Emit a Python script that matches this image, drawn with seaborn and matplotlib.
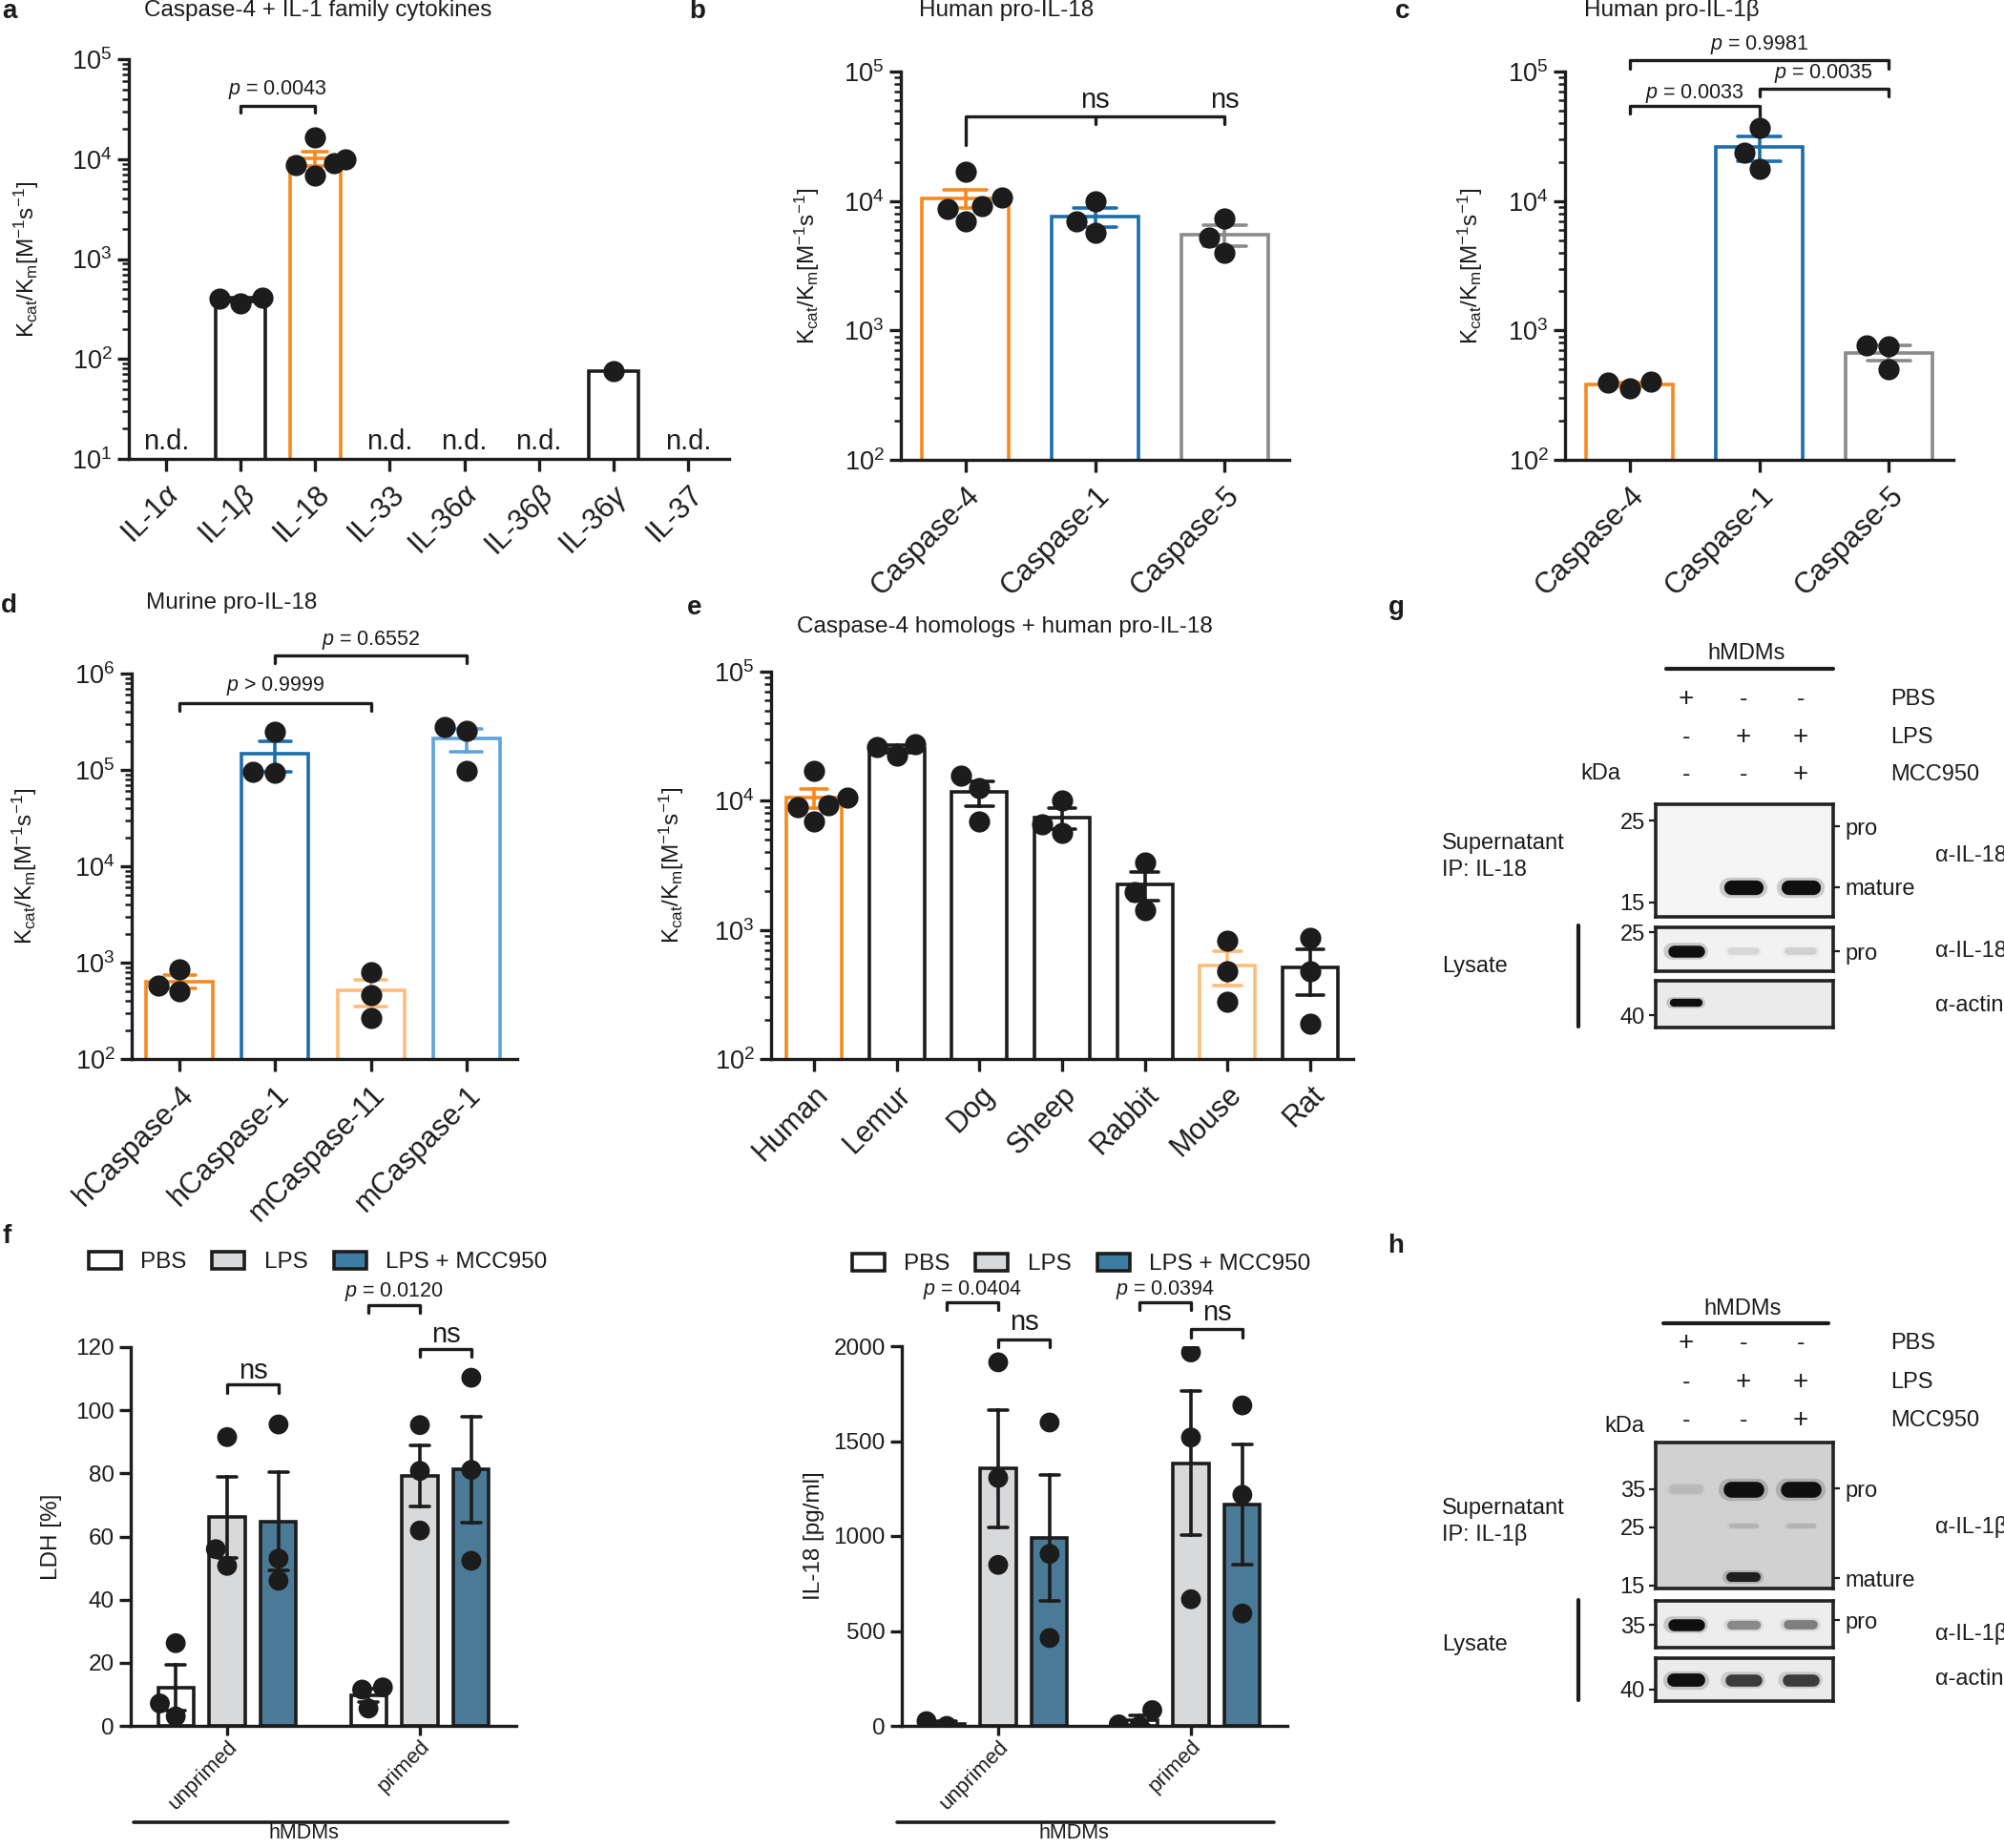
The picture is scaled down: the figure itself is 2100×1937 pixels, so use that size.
import numpy as np
import pandas as pd
import matplotlib
matplotlib.use("Agg")
import matplotlib.pyplot as plt
import matplotlib.transforms as mtransforms
from matplotlib.lines import Line2D
from matplotlib.patches import Patch
from matplotlib.ticker import LogLocator, NullFormatter, NullLocator
import seaborn as sns

# ---------------- data ----------------
# a: caspase-4 against IL-1 family members (empty list = not detected)
a_labels = ["IL-1$\\alpha$", "IL-1$\\beta$", "IL-18", "IL-33", "IL-36$\\alpha$",
            "IL-36$\\beta$", "IL-36$\\gamma$", "IL-37"]
a_il1a = []
a_il1b = [410, 360, 405]
a_il18 = [16400, 9900, 9100, 8700, 6900]
a_il33 = []
a_il36a = []
a_il36b = []
a_il36g = [76]
a_il37 = []

# b: human pro-IL-18
b_labels = ["Caspase-4", "Caspase-1", "Caspase-5"]
b_casp4 = [16700, 10700, 9100, 8700, 7000]
b_casp1 = [10000, 7000, 5700]
b_casp5 = [7300, 5200, 3950]

# c: human pro-IL-1beta
c_labels = ["Caspase-4", "Caspase-1", "Caspase-5"]
c_casp4 = [400, 360, 395]
c_casp1 = [36600, 23600, 17700]
c_casp5 = [767, 753, 501]

# d: murine pro-IL-18
d_labels = ["hCaspase-4", "hCaspase-1", "mCaspase-11", "mCaspase-1"]
d_hcasp4 = [843, 502, 575]
d_hcasp1 = [248000, 94000, 96000]
d_mcasp11 = [803, 465, 265]
d_mcasp1 = [277000, 255000, 98000]

# e: caspase-4 homologs + human pro-IL-18
e_labels = ["Human", "Lemur", "Dog", "Sheep", "Rabbit", "Mouse", "Rat"]
e_human = [17100, 10600, 9200, 8900, 6900]
e_lemur = [27500, 22200, 26000]
e_dog = [15600, 12600, 6900]
e_sheep = [10000, 6600, 5600]
e_rabbit = [3300, 1980, 1420]
e_mouse = [820, 479, 279]
e_rat = [862, 479, 189]

# f: hMDMs, LDH release and IL-18
f_groups = ["unprimed", "primed"]
f_treats = ["PBS", "LPS", "LPS + MCC950"]
ldh_unprimed_pbs = [26.2, 7.1, 3.0]
ldh_unprimed_lps = [91.5, 50.7, 56.0]
ldh_unprimed_mcc = [95.5, 53.0, 46.0]
ldh_primed_pbs = [12.2, 11.5, 5.5]
ldh_primed_lps = [95.3, 80.8, 61.9]
ldh_primed_mcc = [110.3, 81.1, 52.3]
il18_unprimed_pbs = [0, 25]
il18_unprimed_lps = [1915, 1306, 848]
il18_unprimed_mcc = [1598, 906, 463]
il18_primed_pbs = [83, 0, 8]
il18_primed_lps = [1967, 1519, 667]
il18_primed_mcc = [1688, 1217, 592]

# g/h: western blots, lane treatments and band intensities (0..1)
treat_pbs = ["+", "-", "-"]
treat_lps = ["-", "+", "+"]
treat_mcc = ["-", "-", "+"]
g_sup_mature = [0.0, 1.0, 1.0]
g_lys_pro = [1.0, 0.12, 0.15]
g_actin = [1.0, 0.0, 0.0]
h_sup_pro = [0.12, 1.0, 1.0]
h_sup_mid = [0.0, 0.15, 0.15]
h_sup_mature = [0.0, 0.92, 0.0]
h_lys_pro = [1.0, 0.45, 0.5]
h_actin = [1.0, 0.8, 0.8]

# ---------------- style ----------------
INK = "#1c1c1c"
ORANGE = "#F58A1F"
BLUE = "#1C6EAB"
GREY = "#8A8A8A"
LORANGE = "#FDBD79"
LBLUE = "#5FA3DA"
f_colors = ["white", "#D8D9DB", "#3E7DA3"]
KLABEL = "K$_{\\mathrm{cat}}$/K$_{\\mathrm{m}}$[M$^{-1}$s$^{-1}$]"

sns.set_style("ticks")
plt.rcParams["font.family"] = ["Liberation Sans", "DejaVu Sans"]
plt.rcParams["mathtext.fontset"] = "custom"
plt.rcParams["mathtext.rm"] = "Liberation Sans"
plt.rcParams["mathtext.it"] = "Liberation Sans:italic"
plt.rcParams["mathtext.bf"] = "Liberation Sans:bold"
for k in ["text.color", "axes.labelcolor", "xtick.color", "ytick.color", "axes.edgecolor"]:
    plt.rcParams[k] = INK
plt.rcParams["axes.linewidth"] = 2.4

W, H = 2100, 1937
fig = plt.figure(figsize=(W / 100, H / 100), dpi=100)


def px_axes(l, t, r, b):
    return fig.add_axes([l / W, 1 - b / H, (r - l) / W, (b - t) / H])


def fig_text(x, y, s, **kw):
    fig.text(x / W, 1 - y / H, s, **kw)


def fig_line(xs, ys, lw=2.6):
    fig.add_artist(Line2D([x / W for x in xs], [1 - y / H for y in ys],
                          transform=fig.transFigure, color=INK, lw=lw))


def bracket(ax, x1, x2, y, y1, y2, label=None, ty=None, fs=15.5):
    ax.plot([x1, x1, x2, x2], [y1, y, y, y2], color=INK, lw=2.4, clip_on=False)
    if label:
        ax.text((x1 + x2) / 2, ty, label, ha="center", va="center", fontsize=fs, clip_on=False)


def log_panel(box, labels, series, colors, ylim, xlim, width, ylab_x):
    l, t, r, b = box
    ax = px_axes(*box)
    counts = [len(s) for s in series]
    df = pd.DataFrame({
        "cat": np.repeat(labels, counts),
        "val": np.concatenate([np.asarray(s, dtype=float) for s in series]),
    })
    sns.barplot(data=df, x="cat", y="val", order=labels, hue="cat", hue_order=labels,
                palette=dict(zip(labels, colors)), fill=False, width=width,
                errorbar="se", capsize=0.33, linewidth=2.6,
                err_kws={"linewidth": 2.6}, legend=False, ax=ax)
    ax.set_yscale("log")
    sns.swarmplot(data=df, x="cat", y="val", order=labels, color=INK, size=16, ax=ax)
    ax.set_ylim(*ylim)
    ax.set_xlim(*xlim)
    ax.yaxis.set_major_locator(LogLocator(base=10, numticks=12))
    ax.yaxis.set_minor_locator(LogLocator(base=10, subs=np.arange(2, 10), numticks=12))
    ax.yaxis.set_minor_formatter(NullFormatter())
    ax.set_xticks(range(len(labels)))
    ax.set_xticklabels(labels, rotation=45, ha="right", rotation_mode="anchor", fontsize=22)
    ax.tick_params(axis="y", which="major", length=9, width=2.4, labelsize=19.5)
    ax.tick_params(axis="y", which="minor", length=5, width=1.8)
    ax.tick_params(axis="x", length=9, width=2.4, pad=7)
    ax.set_xlabel("")
    ax.set_ylabel(KLABEL, fontsize=17.5)
    ax.yaxis.set_label_coords((ylab_x - l) / (r - l), 0.5)
    sns.despine(ax=ax)
    return ax


def long_frame(series):
    keys = [(g, t) for g in f_groups for t in f_treats]
    return pd.DataFrame([{"group": g, "treat": t, "val": v}
                         for (g, t), s in zip(keys, series) for v in s])


def f_panel(box, df, ylim, yticks, ylabel, ylab_x, legend_xy):
    l, t, r, b = box
    ax = px_axes(*box)
    sns.barplot(data=df, x="group", y="val", hue="treat", order=f_groups, hue_order=f_treats,
                palette=f_colors, width=0.8, gap=0.31, errorbar="se", capsize=0.3,
                edgecolor=INK, linewidth=2.6, err_kws={"color": INK, "linewidth": 2.6},
                legend=False, ax=ax)
    sns.swarmplot(data=df, x="group", y="val", hue="treat", order=f_groups, hue_order=f_treats,
                  dodge=True, palette=[INK] * 3, size=15, legend=False, ax=ax)
    ax.set_ylim(*ylim)
    ax.set_xlim(-0.5, 1.5)
    ax.set_yticks(yticks)
    ax.set_xticks([0, 1])
    ax.set_xticklabels(f_groups, rotation=45, ha="right", rotation_mode="anchor", fontsize=16)
    ax.tick_params(axis="y", length=9, width=2.4, labelsize=17.5)
    ax.tick_params(axis="x", length=7, width=2.4, pad=1)
    ax.set_xlabel("")
    ax.set_ylabel(ylabel, fontsize=17.5)
    ax.yaxis.set_label_coords((ylab_x - l) / (r - l), 0.5)
    sns.despine(ax=ax)
    handles = [Patch(facecolor=c, edgecolor=INK, linewidth=2.6, label=tr)
               for c, tr in zip(f_colors, f_treats)]
    ax.legend(handles=handles, ncol=3, loc="center",
              bbox_to_anchor=(legend_xy[0] / W, 1 - legend_xy[1] / H),
              bbox_transform=fig.transFigure, frameon=False, fontsize=17.5,
              handlelength=1.4, handleheight=0.75, handletextpad=0.85, columnspacing=1.1)
    return ax


def membrane(box, ylim, bg, bands, left_marks, right_marks):
    ax = px_axes(*box)
    ax.set_facecolor(str(bg))
    ax.set_yscale("log")
    ax.set_xlim(-0.53, 2.57)
    ax.set_ylim(*ylim)
    for kda, lane_vals, lw in bands:
        for lane, v in enumerate(lane_vals):
            if v > 0:
                shade = bg - (bg - 0.06) * v
                width = lw * (0.55 + 0.45 * v)
                # soft halo, then the band core
                ax.plot([lane - 0.24, lane + 0.24], [kda, kda], color=str(shade),
                        lw=width * 1.4, alpha=0.18, solid_capstyle="round")
                ax.plot([lane - 0.22, lane + 0.22], [kda, kda], color=str(shade),
                        lw=width, solid_capstyle="round")
    ax.set_xticks([])
    ax.yaxis.set_minor_locator(NullLocator())
    ax.set_yticks(left_marks, labels=[str(m) for m in left_marks])
    ax.tick_params(axis="y", length=5, width=1.6, pad=3, labelsize=17)
    if right_marks:
        sec = ax.secondary_yaxis("right")
        sec.yaxis.set_minor_locator(NullLocator())
        sec.set_yticks([p for _, p in right_marks], labels=[n for n, _ in right_marks])
        sec.tick_params(length=5, width=1.6, pad=4, labelsize=17)
        sec.spines["right"].set_visible(False)
    for s in ax.spines.values():
        s.set_visible(True)
        s.set_linewidth(2.6)
        s.set_color("#222222")
    return ax


def blot_header(ax, header_xy, line_x, line_y, rows_y, kda_xy):
    fig_text(*header_xy, "hMDMs", ha="center", va="center", fontsize=17)
    fig_line(line_x, [line_y, line_y], lw=3)
    trans = mtransforms.blended_transform_factory(ax.transData, fig.transFigure)
    for name, signs, y in zip(["PBS", "LPS", "MCC950"], [treat_pbs, treat_lps, treat_mcc], rows_y):
        for lane, sg in enumerate(signs):
            ax.text(lane, 1 - y / H, sg, transform=trans, ha="center", va="center",
                    fontsize=20 if sg == "+" else 18, clip_on=False)
        fig_text(1981, y, name, ha="left", va="center", fontsize=17)
    fig_text(*kda_xy, "kDa", ha="center", va="center", fontsize=17)


# ---------------- panel a ----------------
a_series = [a_il1a, a_il1b, a_il18, a_il33, a_il36a, a_il36b, a_il36g, a_il37]
ax_a = log_panel((135, 62, 764, 481), a_labels, a_series,
                 [INK, INK, ORANGE, INK, INK, INK, INK, INK],
                 (10, 1e5), (-0.5, 7.55), 0.67, 43)
for i, s in enumerate(a_series):
    if len(s) == 0:
        ax_a.text(i, 11, "n.d.", ha="center", va="bottom", fontsize=21)
bracket(ax_a, 1, 2, 3.4e4, 2.9e4, 2.9e4, "$p$ = 0.0043", 4.9e4)

# ---------------- panel b ----------------
ax_b = log_panel((944, 75, 1351, 482), b_labels, [b_casp4, b_casp1, b_casp5],
                 [ORANGE, BLUE, GREY], (100, 1e5), (-0.5, 2.5), 0.67, 861)
bracket(ax_b, 0, 2, 4.5e4, 2.7e4, 3.9e4)
ax_b.plot([1, 1], [4.5e4, 3.9e4], color=INK, lw=2.4)
for xx in (1, 2):
    ax_b.text(xx, 6.0e4, "ns", ha="center", va="center", fontsize=21)

# ---------------- panel c ----------------
ax_c = log_panel((1640, 75, 2047, 482), c_labels, [c_casp4, c_casp1, c_casp5],
                 [ORANGE, BLUE, GREY], (100, 1e5), (-0.5, 2.5), 0.67, 1556)
bracket(ax_c, 0, 2, 1.22e5, 1.05e5, 1.05e5, "$p$ = 0.9981", 1.6e5)
bracket(ax_c, 0, 1, 5.4e4, 4.7e4, 4.5e4, "$p$ = 0.0033", 6.8e4)
bracket(ax_c, 1, 2, 7.4e4, 6.4e4, 6.4e4, "$p$ = 0.0035", 9.7e4)

# ---------------- panel d ----------------
ax_d = log_panel((138, 706, 542, 1110), d_labels, [d_hcasp4, d_hcasp1, d_mcasp11, d_mcasp1],
                 [ORANGE, BLUE, LORANGE, LBLUE], (100, 1e6), (-0.5, 3.53), 0.70, 41)
bracket(ax_d, 0, 2, 4.95e5, 4.1e5, 4.1e5, "$p$ > 0.9999", 7.4e5)
bracket(ax_d, 1, 3, 1.55e6, 1.28e6, 1.28e6, "$p$ = 0.6552", 2.24e6)

# ---------------- panel e ----------------
ax_e = log_panel((808, 704, 1418, 1110), e_labels,
                 [e_human, e_lemur, e_dog, e_sheep, e_rabbit, e_mouse, e_rat],
                 [ORANGE, INK, INK, INK, INK, LORANGE, INK], (100, 1e5), (-0.52, 6.52), 0.67, 719)

# ---------------- panel f ----------------
off = 0.8 / 3
ldh_df = long_frame([ldh_unprimed_pbs, ldh_unprimed_lps, ldh_unprimed_mcc,
                     ldh_primed_pbs, ldh_primed_lps, ldh_primed_mcc])
ax_f1 = f_panel((137, 1412, 541, 1809), ldh_df, (0, 120), range(0, 121, 20),
                "LDH [%]", 65, (333, 1323))
bracket(ax_f1, 0, off, 108.1, 105.6, 105.6, "ns", 112.5, fs=21)
bracket(ax_f1, 1 - off, 1, 133.4, 130.9, 130.9, "$p$ = 0.0120", 137.5)
bracket(ax_f1, 1, 1 + off, 119.4, 116.9, 116.9, "ns", 123.8, fs=21)

il18_df = long_frame([il18_unprimed_pbs, il18_unprimed_lps, il18_unprimed_mcc,
                      il18_primed_pbs, il18_primed_lps, il18_primed_mcc])
ax_f2 = f_panel((945, 1411, 1349, 1809), il18_df, (0, 2000), range(0, 2001, 500),
                "IL-18 [pg/ml]", 864, (1133, 1325))
bracket(ax_f2, -off, 0, 2233, 2192, 2192, "$p$ = 0.0404", 2296)
bracket(ax_f2, 0, off, 2035, 1994, 1994, "ns", 2125, fs=21)
bracket(ax_f2, 1 - off, 1, 2233, 2192, 2192, "$p$ = 0.0394", 2296)
bracket(ax_f2, 1, 1 + off, 2092, 2046, 2046, "ns", 2175, fs=21)

for x1, x2, cx in [(140, 532, 318), (940, 1335, 1125)]:
    fig_line([x1, x2], [1910, 1910])
    fig_text(cx, 1911, "hMDMs", ha="center", va="top", fontsize=15.5)

# ---------------- panel g ----------------
g1 = membrane((1735, 843, 1921, 961), (13.7, 27.7), 0.96, [(16.5, g_sup_mature, 11)],
              [25, 15], [("pro", 24.1), ("mature", 16.5)])
membrane((1735, 972, 1921, 1018), (19.6, 25.8), 0.95, [(22.2, g_lys_pro, 9)],
         [25], [("pro", 22.2)])
membrane((1735, 1028, 1921, 1077), (37.1, 49.6), 0.92, [(43.3, g_actin, 6)], [40], [])
blot_header(g1, (1830, 685), [1746, 1921], 701, [733, 773, 812], (1677, 811))
fig_text(1511, 898, "Supernatant\nIP: IL-18", ha="left", va="center", fontsize=17, linespacing=1.3)
fig_text(1511, 1013, "Lysate", ha="left", va="center", fontsize=17)
fig_line([1654, 1654], [970, 1076], lw=3)
for lab, y in [("α-IL-18", 897), ("α-IL-18", 997), ("α-actin", 1054)]:
    fig_text(2028, y, lab, ha="left", va="center", fontsize=17)

# ---------------- panel h ----------------
h1 = membrane((1735, 1512, 1921, 1665), (14.6, 52.8), 0.82,
              [(35, h_sup_pro, 12), (25.5, h_sup_mid, 6), (16.1, h_sup_mature, 7.5)],
              [35, 25, 15], [("pro", 35.2), ("mature", 16.0)])
membrane((1735, 1678, 1921, 1727), (28.6, 43.2), 0.93, [(35, h_lys_pro, 9)],
         [35], [("pro", 36.5)])
membrane((1735, 1738, 1921, 1783), (36.1, 52.7), 0.92, [(43.5, h_actin, 10)], [40], [])
blot_header(h1, (1826, 1372), [1743, 1916], 1387, [1408, 1449, 1489], (1702, 1495))
fig_text(1511, 1595, "Supernatant\nIP: IL-1β", ha="left", va="center", fontsize=17, linespacing=1.3)
fig_text(1511, 1724, "Lysate", ha="left", va="center", fontsize=17)
fig_line([1654, 1654], [1677, 1782], lw=3)
for lab, y in [("α-IL-1β", 1601), ("α-IL-1β", 1712), ("α-actin", 1760)]:
    fig_text(2028, y, lab, ha="left", va="center", fontsize=17)

# ---------------- titles and panel letters ----------------
for x, y, s in [(333, 11, "Caspase-4 + IL-1 family cytokines"), (1055, 11, "Human pro-IL-18"),
                (1752, 11, "Human pro-IL-1β"), (243, 632, "Murine pro-IL-18"),
                (1053, 657, "Caspase-4 homologs + human pro-IL-18")]:
    fig_text(x, y, s, ha="center", va="center", fontsize=17.5)
for x, y, s in [(10, 12, "a"), (731, 12, "b"), (1470, 12, "c"), (9, 635, "d"),
                (728, 637, "e"), (7, 1296, "f"), (1463, 637, "g"), (1463, 1306, "h")]:
    fig_text(x, y, s, ha="center", va="center", fontsize=20, fontweight="bold")

fig.savefig("out.png", dpi=100)
